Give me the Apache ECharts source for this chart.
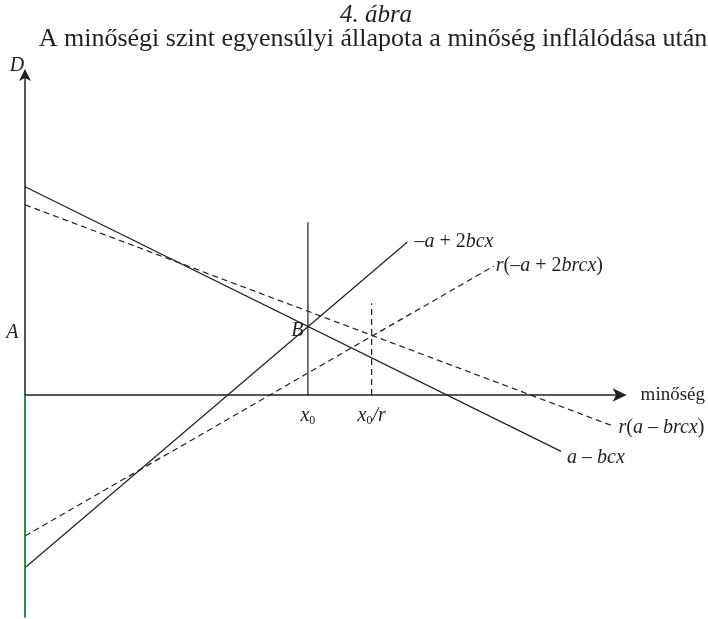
<!DOCTYPE html>
<html>
<head>
<meta charset="utf-8">
<script src="https://cdn.jsdelivr.net/npm/echarts@6/dist/echarts.min.js"></script>
<style>
  html, body { margin: 0; padding: 0; background: #fff; }
  #chart { width: 708px; height: 619px; }
</style>
</head>
<body>
<div id="chart"></div>
<script>
// Demand / quality model: original curves (solid) and curves after quality inflation (dashed).
// Each line is given by its two end points [quality, D].
const demandLine      = [[0, 34.7], [90, -9.4]];    // a − bcx
const demandLineR     = [[0, 31.7], [98.8, -5.2]];  // r(a − brcx)
const supplyLine      = [[0, -28.8], [64.2, 25.5]]; // −a + 2bcx
const supplyLineR     = [[0, -23.5], [78.7, 21.5]]; // r(−a + 2brcx)
const x0Marker        = [[47.5, 0], [47.5, 28.8]];  // vertical at x0
const x0rMarker       = [[58.2, 0], [58.2, 15.3]];  // vertical at x0/r
const negativeAxis    = [[0, -37], [0, 0]];         // lower part of the D axis

// Equilibrium points and reference labels
const pointB   = [47.5, 11.3];
const pointA   = [0, 10.4];
const axisTopD = [0, 53.5];
const tickX0   = [47.5, 0];
const tickX0r  = [58.2, 0];

const titleText = '4. ábra';
const subtitleText = 'A minőségi szint egyensúlyi állapota a minőség inflálódása után';
const xAxisName = 'minőség';

const SERIF = '"Liberation Serif", "Times New Roman", serif';
const INK = '#231f20';

const rich = {
  i: { fontFamily: SERIF, fontStyle: 'italic', fontSize: 20, color: INK },
  n: { fontFamily: SERIF, fontStyle: 'normal', fontSize: 20, color: INK },
  s: { fontFamily: SERIF, fontStyle: 'normal', fontSize: 12, color: INK, padding: [9, 0, 0, 0] }
};

function lineSeries(data, dashed, label, labelOpts) {
  const s = {
    type: 'line',
    data: data,
    symbol: 'none',
    clip: false,
    silent: true,
    lineStyle: { color: INK, width: 1.2, type: dashed ? [6, 4] : 'solid' }
  };
  if (label) {
    s.endLabel = Object.assign({
      show: true,
      formatter: label,
      rich: rich,
      distance: 6
    }, labelOpts || {});
  }
  return s;
}

function pointLabel(pt, text, opts) {
  return {
    type: 'scatter',
    data: [pt],
    symbolSize: 1,
    silent: true,
    itemStyle: { color: 'rgba(0,0,0,0)', opacity: 1 },
    label: Object.assign({ show: true, formatter: text, rich: rich, color: INK }, opts)
  };
}

const chart = echarts.init(document.getElementById('chart'), null, { renderer: 'canvas' });

chart.setOption({
  animation: false,
  backgroundColor: '#fff',
  title: [
    {
      text: titleText,
      left: 371, top: -2, textAlign: 'center',
      textStyle: { fontFamily: SERIF, fontStyle: 'italic', fontWeight: 'normal', fontSize: 25, color: INK }
    },
    {
      text: subtitleText,
      left: 368, top: 21, textAlign: 'center',
      textStyle: { fontFamily: SERIF, fontWeight: 'normal', fontSize: 26, color: INK }
    }
  ],
  grid: { left: 25, right: 83, top: 74, bottom: 2 },
  xAxis: {
    type: 'value', min: 0, max: 100,
    name: xAxisName, nameLocation: 'end', nameGap: 20,
    nameTextStyle: { fontFamily: SERIF, fontSize: 19, color: INK },
    axisLine: { onZero: true, lineStyle: { color: INK, width: 1.5 }, symbol: ['none', 'arrow'], symbolSize: [10, 14], symbolOffset: [0, 6] },
    axisTick: { show: false }, axisLabel: { show: false }, splitLine: { show: false }
  },
  yAxis: {
    type: 'value', min: -37, max: 53.5,
    axisLine: { lineStyle: { color: INK, width: 1.5 }, symbol: ['none', 'arrow'], symbolSize: [9, 12], symbolOffset: [0, 5] },
    axisTick: { show: false }, axisLabel: { show: false }, splitLine: { show: false }
  },
  series: [
    Object.assign(lineSeries(negativeAxis, false), { lineStyle: { color: '#14a24a', width: 1.6 }, z: 5 }),
    lineSeries(demandLine, false, '{i|a }{n|– }{i|bcx}', { offset: [0, 6] }),
    lineSeries(demandLineR, true, '{i|r}{n|(}{i|a }{n|– }{i|brcx}{n|)}', { offset: [0, 2], distance: 5 }),
    lineSeries(supplyLine, false, '{n|–}{i|a }{n|+ 2}{i|bcx}', { distance: 7 }),
    lineSeries(supplyLineR, true, '{i|r}{n|(–}{i|a }{n|+ 2}{i|brcx}{n|)}', { distance: 2 }),
    lineSeries(x0Marker, false),
    lineSeries(x0rMarker, true),
    pointLabel(pointB, '{i|B}', { position: 'left', distance: 4, offset: [0, 4] }),
    pointLabel(pointA, '{i|A}', { position: 'left', distance: 6 }),
    pointLabel(axisTopD, '{i|D}', { position: 'top', distance: 1, offset: [-8, 3] }),
    pointLabel(tickX0, '{i|x}{s|0}', { position: 'bottom', distance: 10 }),
    pointLabel(tickX0r, '{i|x}{s|0}{i|/r}', { position: 'bottom', distance: 10 })
  ]
});
</script>
</body>
</html>
